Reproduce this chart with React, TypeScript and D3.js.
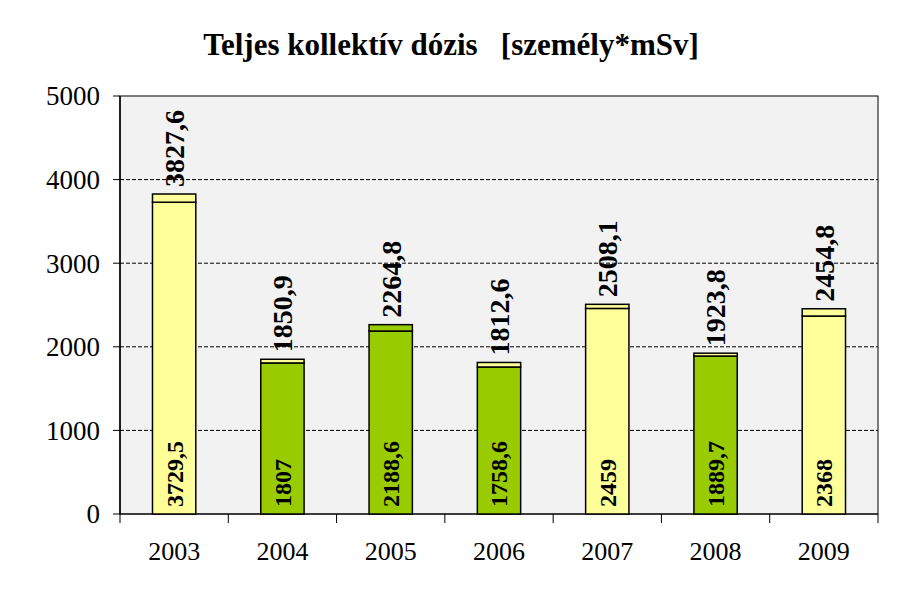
import React from "react";
import * as d3 from "d3";

const years = ["2003", "2004", "2005", "2006", "2007", "2008", "2009"];
const baseValues = [3729.5, 1807, 2188.6, 1758.6, 2459, 1889.7, 2368];
const totalValues = [3827.6, 1850.9, 2264.8, 1812.6, 2508.1, 1923.8, 2454.8];
const baseColors = ["#ffff99", "#99cc00", "#99cc00", "#99cc00", "#ffff99", "#99cc00", "#ffff99"];
const topColors = ["#ffff99", "#ffff99", "#99cc00", "#ffff99", "#ffff99", "#ffff99", "#ffff99"];
const yTicks = [0, 1000, 2000, 3000, 4000, 5000];
const title = "Teljes kollektív dózis   [személy*mSv]";

const W = 903, H = 615;
const left = 120, right = 878, top = 96, bottom = 514;
const fmt = (v: number) => String(v).replace(".", ",");

export default function App() {
  const x = d3.scaleBand<string>().domain(years).range([left, right]).paddingInner(0.6).paddingOuter(0.3);
  const y = d3.scaleLinear().domain([0, 5000]).range([bottom, top]);
  const step = (right - left) / years.length;
  const serif = "'Liberation Serif', 'Times New Roman', serif";
  return (
    <svg width={W} height={H} style={{ position: "absolute", left: 0, top: 0, background: "#fff" }}>
      <text x={451} y={55} textAnchor="middle" fontFamily={serif} fontWeight="bold" fontSize={31} style={{ whiteSpace: "pre" }}>{title}</text>
      <rect x={left} y={top} width={right - left} height={bottom - top} fill="#f2f2f2" stroke="#000" strokeWidth={1} />
      {yTicks.filter(t => t > 0 && t < 5000).map(t => (
        <line key={"g" + t} x1={left} x2={right} y1={y(t)} y2={y(t)} stroke="#000" strokeWidth={1} strokeDasharray="4,2" />
      ))}
      {yTicks.map(t => (
        <g key={"y" + t}>
          <line x1={left - 7} x2={left} y1={y(t)} y2={y(t)} stroke="#000" strokeWidth={1} />
          <text x={100} y={y(t)} dy="0.35em" textAnchor="end" fontFamily={serif} fontSize={27}>{t}</text>
        </g>
      ))}
      <line x1={left} x2={left} y1={top} y2={bottom} stroke="#000" strokeWidth={1.5} />
      <line x1={left} x2={right} y1={bottom} y2={bottom} stroke="#000" strokeWidth={1} />
      {years.map((yr, i) => (
        <line key={"xt" + yr} x1={left + step * i} x2={left + step * i} y1={bottom} y2={bottom + 9} stroke="#000" strokeWidth={1} />
      ))}
      <line x1={right} x2={right} y1={bottom} y2={bottom + 9} stroke="#000" strokeWidth={1} />
      {years.map((yr, i) => {
        const bx = x(yr)!;
        const bw = x.bandwidth();
        const cx = bx + bw / 2;
        return (
          <g key={yr}>
            <rect x={bx} y={y(baseValues[i])} width={bw} height={y(0) - y(baseValues[i])} fill={baseColors[i]} stroke="#000" strokeWidth={1.5} />
            <rect x={bx} y={y(totalValues[i])} width={bw} height={y(baseValues[i]) - y(totalValues[i])} fill={topColors[i]} stroke="#000" strokeWidth={1.5} />
            <text transform={`translate(${cx},${y(totalValues[i]) - 7}) rotate(-90)`} dy="0.35em" fontFamily={serif} fontWeight="bold" fontSize={28}>{fmt(totalValues[i])}</text>
            <text transform={`translate(${cx},${bottom - 7}) rotate(-90)`} dy="0.35em" fontFamily={serif} fontWeight="bold" fontSize={24}>{fmt(baseValues[i])}</text>
            <text x={left + step * (i + 0.5)} y={560} textAnchor="middle" fontFamily={serif} fontSize={26}>{yr}</text>
          </g>
        );
      })}
    </svg>
  );
}
